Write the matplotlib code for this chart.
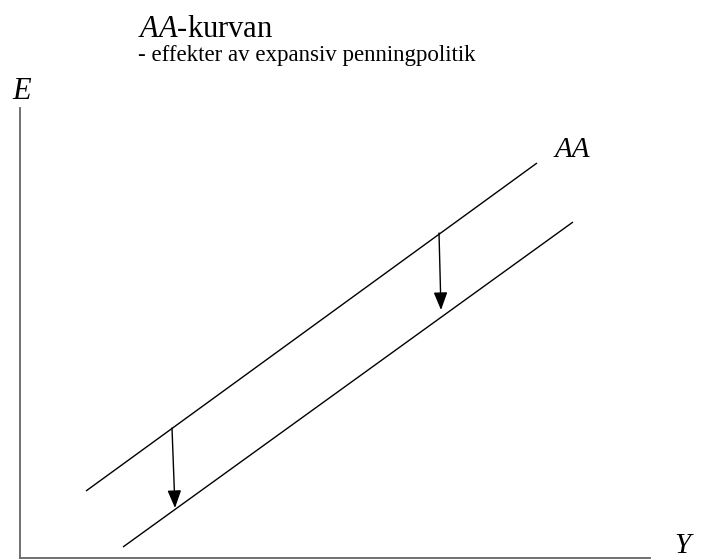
import matplotlib
matplotlib.use("Agg")
import matplotlib.pyplot as plt

plt.rcParams['font.family'] = ['Liberation Serif', 'DejaVu Serif']
plt.rcParams['mathtext.fontset'] = 'custom'
plt.rcParams['mathtext.rm'] = 'Liberation Serif'
plt.rcParams['mathtext.it'] = 'Liberation Serif:italic'

# AA-kurvan before and after the monetary expansion (Y, E endpoints)
aa_old_y = [66, 517]
aa_old_e = [67, 395]
aa_new_y = [103, 553]
aa_new_e = [11, 336]

# shift arrows: start on old curve, tip on new curve
shift_start = [(152, 130), (419, 325)]
shift_end = [(155, 50), (421, 248)]

W, H = 701, 560
fig = plt.figure(figsize=(W / 100, H / 100), dpi=100)
ax = fig.add_axes([20 / W, 2 / H, 630 / W, 450 / H])
ax.set_xlim(0, 630)
ax.set_ylim(0, 450)
for side in ('top', 'right'):
    ax.spines[side].set_visible(False)
for side in ('left', 'bottom'):
    ax.spines[side].set_color('#666666')
    ax.spines[side].set_linewidth(1.3)
ax.set_xticks([])
ax.set_yticks([])

ax.plot(aa_old_y, aa_old_e, color='black', lw=1.0, solid_capstyle='butt')
ax.plot(aa_new_y, aa_new_e, color='black', lw=1.0, solid_capstyle='butt')

for s, e in zip(shift_start, shift_end):
    ax.annotate('', xy=e, xytext=s,
                arrowprops=dict(arrowstyle='-|>,head_length=0.9,head_width=0.35',
                                color='black', lw=1.0, shrinkA=0, shrinkB=0,
                                mutation_scale=12))

# texts placed in pixel positions (top-left origin)
def px(x, y):
    return x / W, 1 - y / H

fig.text(*px(138, 37), '$AA$-kurvan', fontsize=22, va='baseline')
fig.text(*px(138, 61), '- effekter av expansiv penningpolitik', fontsize=16.5, va='baseline')
fig.text(*px(12, 99), 'E', fontsize=22, style='italic', va='baseline')
fig.text(*px(674, 553), 'Y', fontsize=21, style='italic', va='baseline')
fig.text(*px(555, 157), 'AA', fontsize=21, style='italic', va='baseline')

fig.savefig('out.png', dpi=100, facecolor='white')
